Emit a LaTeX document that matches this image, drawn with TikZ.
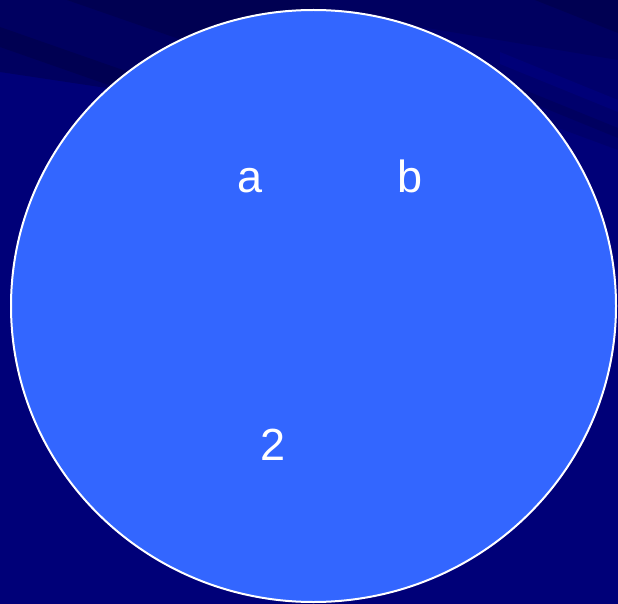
\documentclass[tikz,border=0pt]{standalone}
\usepackage{fontspec}
\setmainfont{Liberation Sans}
\usetikzlibrary{shapes.geometric}
\definecolor{bgnavy}{HTML}{000078}
\definecolor{bgmid}{HTML}{00006c}
\definecolor{bgdark}{HTML}{000060}
\definecolor{bgdarker}{HTML}{000052}
\definecolor{discblue}{HTML}{3366FF}
\tikzset{
  lbl/.style={text=white, font=\fontsize{45}{54}\selectfont, anchor=base, inner sep=0pt},
  disc/.style={fill=discblue, draw=white, line width=2pt}
}
\begin{document}
\begin{tikzpicture}[x=1pt, y=-1pt]
\fill[bgnavy] (0,0) rectangle (618,604);
\useasboundingbox (0,0) rectangle (618,604);
\begin{scope}
\clip (0,0) rectangle (618,604);
% top-left stripes
\fill[bgdark] (0,0) -- (320,0) -- (320,120) -- (0,72) -- cycle;
\fill[bgdarker] (67,0) -- (320,0) -- (320,88) -- cycle;
\fill[bgdarker] (0,27) -- (200,97) -- (200,117) -- (0,47) -- cycle;
% top-right stripes
\fill[bgmid] (320,0) -- (618,0) -- (618,150) -- (320,40) -- cycle;
\fill[bgdark] (320,0) -- (618,0) -- (618,60) -- (320,10) -- cycle;
\fill[bgdarker] (400,0) -- (535,0) -- (618,33) -- (618,0) -- cycle;
\fill[bgnavy] (500,52) -- (618,100) -- (618,112) -- (500,64) -- cycle;
\fill[bgdark] (500,80) -- (618,128) -- (618,138) -- (500,90) -- cycle;
\end{scope}
\node[disc, ellipse, minimum width=605pt, minimum height=592pt, inner sep=0pt] (circ) at (313.5,306) {};
\node[lbl] (a) at (250.5,193) {a};
\node[lbl] (b) at (410,193) {b};
\node[lbl] (two) at (273,460) {2};
\end{tikzpicture}
\end{document}
